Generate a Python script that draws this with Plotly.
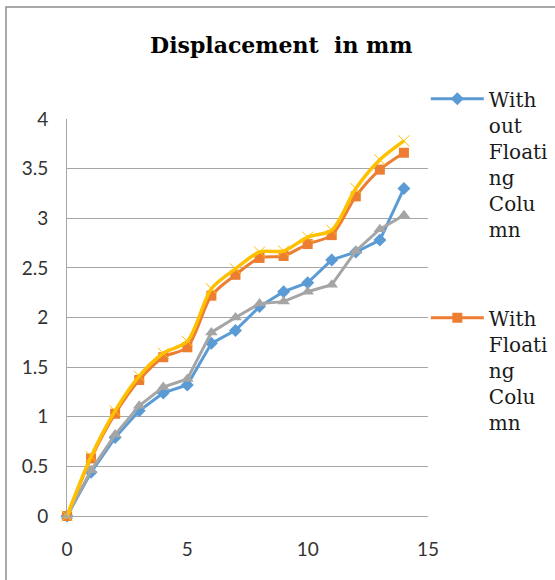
import plotly.graph_objects as go

# Load step index
steps = list(range(15))

# Displacement (mm) per load step
without_floating = [0, 0.44, 0.79, 1.06, 1.24, 1.32, 1.74, 1.87, 2.11, 2.26, 2.35, 2.58, 2.66, 2.78, 3.30]
with_floating = [0, 0.58, 1.03, 1.37, 1.60, 1.70, 2.22, 2.43, 2.60, 2.62, 2.74, 2.83, 3.22, 3.49, 3.66]
series_3 = [0, 0.46, 0.82, 1.11, 1.30, 1.38, 1.85, 2.00, 2.14, 2.16, 2.26, 2.33, 2.67, 2.89, 3.03]
series_4 = [0, 0.60, 1.06, 1.41, 1.64, 1.76, 2.29, 2.49, 2.66, 2.67, 2.81, 2.88, 3.30, 3.59, 3.78]

y_ticks = [0, 0.5, 1, 1.5, 2, 2.5, 3, 3.5, 4]
x_ticks = [0, 5, 10, 15]

BLUE = "#5b9bd5"
ORANGE = "#ed7d31"
GRAY = "#a5a5a5"
GOLD = "#ffc000"
AXIS = "#a6a6a6"

fig = go.Figure()

fig.add_trace(go.Scatter(
    x=steps, y=without_floating, mode="lines+markers",
    name="With<br>out<br>Floati<br>ng<br>Colu<br>mn",
    line=dict(color=BLUE, width=3),
    marker=dict(symbol="diamond", size=10, color=BLUE),
    legendgroup="a", cliponaxis=False,
))
fig.add_trace(go.Scatter(
    x=steps, y=with_floating, mode="lines+markers",
    name="With<br>Floati<br>ng<br>Colu<br>mn",
    line=dict(color=ORANGE, width=3, shape="spline", smoothing=0.8),
    marker=dict(symbol="square", size=10, color=ORANGE),
    legendgroup="b", cliponaxis=False,
))
fig.add_trace(go.Scatter(
    x=steps, y=series_3, mode="lines+markers", name="Series 3",
    line=dict(color=GRAY, width=3),
    marker=dict(symbol="triangle-up", size=11, color=GRAY),
    showlegend=False, cliponaxis=False,
))
fig.add_trace(go.Scatter(
    x=steps, y=series_4, mode="lines+markers", name="Series 4",
    line=dict(color=GOLD, width=3.5, shape="spline", smoothing=0.8),
    marker=dict(symbol="x-thin", size=11, color=GOLD, line=dict(color=GOLD, width=1)),
    showlegend=False, cliponaxis=False,
))

# Outer chart frame
fig.add_shape(type="rect", xref="paper", yref="paper",
              x0=-0.169, x1=2.0, y0=-1.0, y1=1.282,
              line=dict(color="#8c8c8c", width=1.5), fillcolor="rgba(0,0,0,0)", layer="below")

fig.update_layout(
    width=555, height=580,
    margin=dict(l=67, r=127, t=119, b=64, autoexpand=False),
    paper_bgcolor="white", plot_bgcolor="white",
    title=dict(text="<b>Displacement  in mm</b>", x=0.507, xref="container", xanchor="center",
               y=0.922, yref="container", yanchor="middle",
               font=dict(family="DejaVu Serif", size=22, color="black")),
    showlegend=True,
    legend=dict(x=0.994, xanchor="left", y=1.10, yanchor="top", valign="top",
                font=dict(family="DejaVu Serif", size=20, color="#1a1a1a"),
                itemwidth=53, tracegroupgap=60, traceorder="grouped",
                maxheight=1.0, bgcolor="rgba(0,0,0,0)"),
    xaxis=dict(range=[0, 15], tickvals=x_ticks, showgrid=False, zeroline=False,
               showline=True, linecolor=AXIS, linewidth=1, ticks="", ticklabelstandoff=16,
               tickfont=dict(family="Lato", size=19, color="#333")),
    yaxis=dict(range=[0, 4], tickvals=y_ticks, showgrid=True, gridcolor=AXIS, gridwidth=1,
               zeroline=False, showline=True, linecolor=AXIS, linewidth=1,
               ticks="", ticklabelstandoff=14,
               tickfont=dict(family="Lato", size=19, color="#333")),
)

fig.write_html("out.html")
